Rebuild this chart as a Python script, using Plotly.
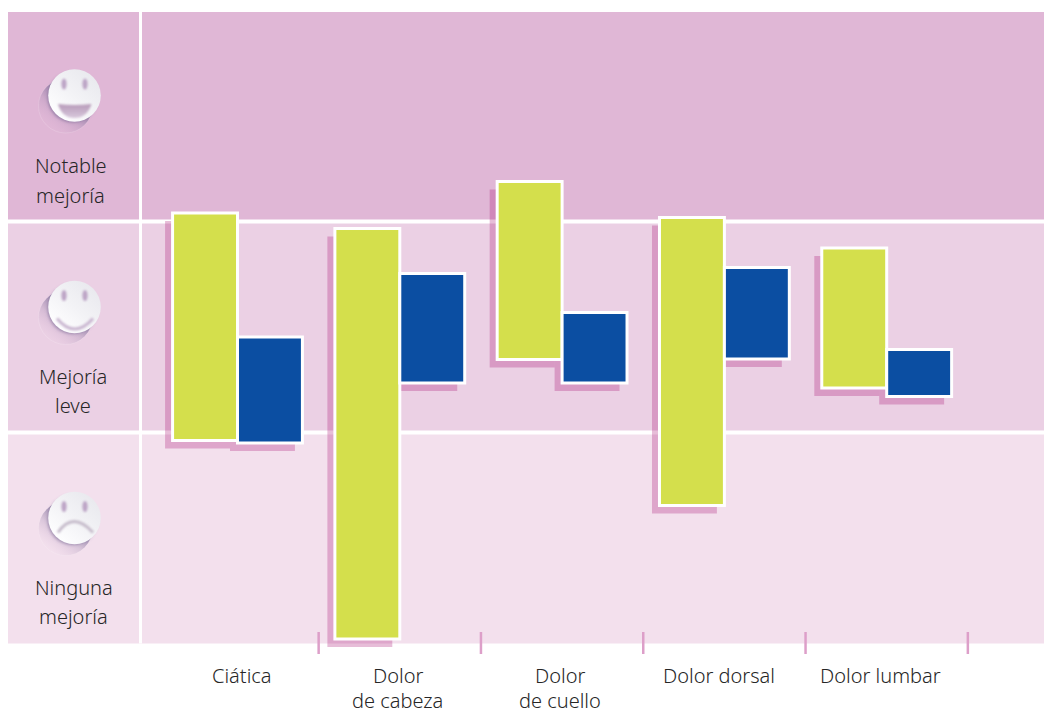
import base64
import plotly.graph_objects as go

# Pain categories and the outcome interval (low, high) of each series
categories = ["Ciática", "Dolor de cabeza", "Dolor de cuello", "Dolor dorsal", "Dolor lumbar"]
label_lines = [["Ciática"], ["Dolor", "de cabeza"], ["Dolor", "de cuello"], ["Dolor dorsal"], ["Dolor lumbar"]]
label_shift = [4, -2, -2, -5, -6]
green_low = [0.962, 0.021, 1.346, 0.654, 1.211]
green_high = [2.040, 1.967, 2.190, 2.019, 1.874]
blue_low = [0.950, 1.235, 1.235, 1.348, 1.171]
blue_high = [1.453, 1.754, 1.569, 1.782, 1.393]

# Outcome bands, bottom to top
band_edges = [0, 1, 2, 2.993]
band_colors = ["#f3e0ed", "#ebd0e4", "#e0b7d6"]
band_lines = [["Ninguna", "mejoría"], ["Mejoría", "leve"], ["Notable", "mejoría"]]
band_label_py = [[587, 616], [376, 405], [166, 195]]
band_label_px = [[74, 73], [73, 73], [70.5, 70.5]]

W, H = 1044, 713
X_PER_CAT, X_ZERO = 162.3, 237.5
Y_PER_UNIT, Y_ZERO = 211.0, 643.5
SHADOW_DX, SHADOW_DY = 7.5, 8.0
BAR_W = 0.4

GREEN, BLUE = "#d4df4c", "#0b4ea2"
SHADOW = "rgba(165,10,110,0.27)"
TICK = "#dd9fc9"
TEXT = "#262626"
FONT = "Noto Sans"
FONT_SIZE = 20
FONT_WEIGHT = 300

x_range = [-X_ZERO / X_PER_CAT, (W - X_ZERO) / X_PER_CAT]
y_range = [(Y_ZERO - H) / Y_PER_UNIT, Y_ZERO / Y_PER_UNIT]


def face_svg(feature):
    """Embossed round face with a soft cast shadow, on a 100x100 canvas."""
    svg = f"""<svg xmlns='http://www.w3.org/2000/svg' width='100' height='100' viewBox='0 0 100 100'>
<defs>
<linearGradient id='sh' x1='0.8' y1='0.15' x2='0.2' y2='0.9'>
<stop offset='0.3' stop-color='#6f5f8c' stop-opacity='0.7'/>
<stop offset='0.62' stop-color='#8f7aa4' stop-opacity='0.25'/>
<stop offset='1' stop-color='#c9a8cc' stop-opacity='0'/>
</linearGradient>
<linearGradient id='fc' x1='0.85' y1='0.1' x2='0.2' y2='0.85'>
<stop offset='0' stop-color='#e9e9ee'/>
<stop offset='0.55' stop-color='#f3f3f6'/>
<stop offset='1' stop-color='#fdfdfe'/>
</linearGradient>
<linearGradient id='mo' x1='0' y1='0' x2='0' y2='1'>
<stop offset='0' stop-color='#b79ab9'/>
<stop offset='1' stop-color='#d8c8dc'/>
</linearGradient>
<filter id='b1' x='-50%' y='-50%' width='200%' height='200%'><feGaussianBlur stdDeviation='1.1'/></filter>
<filter id='b2' x='-20%' y='-20%' width='140%' height='140%'><feGaussianBlur stdDeviation='1.6'/></filter>
</defs>
<circle cx='40.5' cy='46' r='27' fill='url(#sh)' stroke='#ffffff' stroke-opacity='0.3' stroke-width='0.5'/>
<circle cx='47.5' cy='37.5' r='25' fill='#6f5f8c' fill-opacity='0.55' filter='url(#b2)'/>
<circle cx='49.5' cy='35.5' r='26.3' fill='url(#fc)'/>
<g filter='url(#b1)'>
<ellipse cx='39' cy='24' rx='2.6' ry='5.5' fill='#bda5c6'/>
<ellipse cx='60' cy='24' rx='2.6' ry='5.5' fill='#bda5c6'/>
{feature}
</g>
</svg>"""
    return "data:image/svg+xml;base64," + base64.b64encode(svg.encode()).decode()


mouth_open = "<path d='M33 44 Q49.5 46 66.5 44 Q62 58 49.5 58 Q37 58 33 44 Z' fill='url(#mo)'/>"
mouth_smile = "<path d='M32 47 Q49.5 68 68 47' fill='none' stroke='#c9b6d0' stroke-width='3'/>"
mouth_sad = "<path d='M33 50 Q48 28 68 50' fill='none' stroke='#c6bccb' stroke-width='3'/>"
face_tops = [(mouth_sad, 482.5), (mouth_smile, 271.5), (mouth_open, 60)]

fig = go.Figure()

# Cast shadows sit on the primary axes, whose ranges are offset from the overlay
fig.add_trace(go.Bar(x=categories, y=[h - l for h, l in zip(green_high, green_low)], base=green_low,
                     width=BAR_W, offset=-BAR_W, marker=dict(color=SHADOW, line_width=0),
                     hoverinfo="skip", showlegend=False, xaxis="x", yaxis="y"))
fig.add_trace(go.Bar(x=categories, y=[h - l for h, l in zip(blue_high, blue_low)], base=blue_low,
                     width=BAR_W, offset=0, marker=dict(color=SHADOW, line_width=0),
                     hoverinfo="skip", showlegend=False, xaxis="x", yaxis="y"))

# Floating bars
fig.add_trace(go.Bar(x=categories, y=[h - l for h, l in zip(green_high, green_low)], base=green_low,
                     width=BAR_W, offset=-BAR_W, marker=dict(color=GREEN, line=dict(color="white", width=3)),
                     showlegend=False, xaxis="x2", yaxis="y2"))
fig.add_trace(go.Bar(x=categories, y=[h - l for h, l in zip(blue_high, blue_low)], base=blue_low,
                     width=BAR_W, offset=0, marker=dict(color=BLUE, line=dict(color="white", width=3)),
                     showlegend=False, xaxis="x2", yaxis="y2"))

shapes = []
annotations = []
images = []

# Background bands and the white rules separating them
for lo, hi, color in zip(band_edges[:-1], band_edges[1:], band_colors):
    shapes.append(dict(type="rect", xref="paper", yref="y2", x0=8 / W, x1=1, y0=lo, y1=hi,
                       fillcolor=color, line_width=0, layer="below"))
for edge in band_edges[1:-1]:
    shapes.append(dict(type="line", xref="paper", yref="y2", x0=0, x1=1, y0=edge, y1=edge,
                       line=dict(color="white", width=4), layer="below"))
shapes.append(dict(type="line", xref="paper", yref="y2", x0=140.5 / W, x1=140.5 / W,
                   y0=band_edges[0], y1=band_edges[-1], line=dict(color="white", width=3), layer="below"))

# Category separators straddling the foot of the chart
for i in range(len(categories)):
    shapes.append(dict(type="line", xref="x2", yref="paper", x0=i + 0.5, x1=i + 0.5,
                       y0=1 - 654 / H, y1=1 - 632 / H, line=dict(color=TICK, width=2.5)))

# Category labels, one annotation per line for the wide leading
for i, lines in enumerate(label_lines):
    for j, line in enumerate(lines):
        annotations.append(dict(text=line, xref="x2", yref="paper", x=i, y=1 - (675 + 25 * j) / H,
                                xshift=label_shift[i], showarrow=False, xanchor="center", yanchor="middle",
                                font=dict(family=FONT, size=FONT_SIZE, color=TEXT, weight=FONT_WEIGHT)))

# Band labels in the left column
for lines, pys, pxs in zip(band_lines, band_label_py, band_label_px):
    for line, py, px in zip(lines, pys, pxs):
        annotations.append(dict(text=line, xref="paper", yref="paper", x=px / W, y=1 - py / H,
                                showarrow=False, xanchor="center", yanchor="middle",
                                font=dict(family=FONT, size=FONT_SIZE, color=TEXT, weight=FONT_WEIGHT)))

# Face icons above the band labels
for feature, top in face_tops:
    images.append(dict(source=face_svg(feature), xref="paper", yref="paper", x=25 / W, y=1 - top / H,
                       sizex=100 / W, sizey=100 / H, xanchor="left", yanchor="top",
                       sizing="stretch", layer="above"))

hidden = dict(visible=False, fixedrange=True)
fig.update_layout(
    width=W, height=H, autosize=False,
    margin=dict(l=0, r=0, t=0, b=0, pad=0),
    paper_bgcolor="white", plot_bgcolor="rgba(0,0,0,0)",
    barmode="overlay",
    xaxis=dict(range=[x_range[0] + SHADOW_DX / X_PER_CAT, x_range[1] + SHADOW_DX / X_PER_CAT],
               type="category", categoryorder="array", categoryarray=categories, **hidden),
    yaxis=dict(range=[y_range[0] + SHADOW_DY / Y_PER_UNIT, y_range[1] + SHADOW_DY / Y_PER_UNIT], **hidden),
    xaxis2=dict(range=x_range, overlaying="x", type="category", categoryorder="array",
                categoryarray=categories, **hidden),
    yaxis2=dict(range=y_range, overlaying="y", **hidden),
    shapes=shapes, annotations=annotations, images=images,
)

fig.write_html("out.html", config=dict(displayModeBar=False))
